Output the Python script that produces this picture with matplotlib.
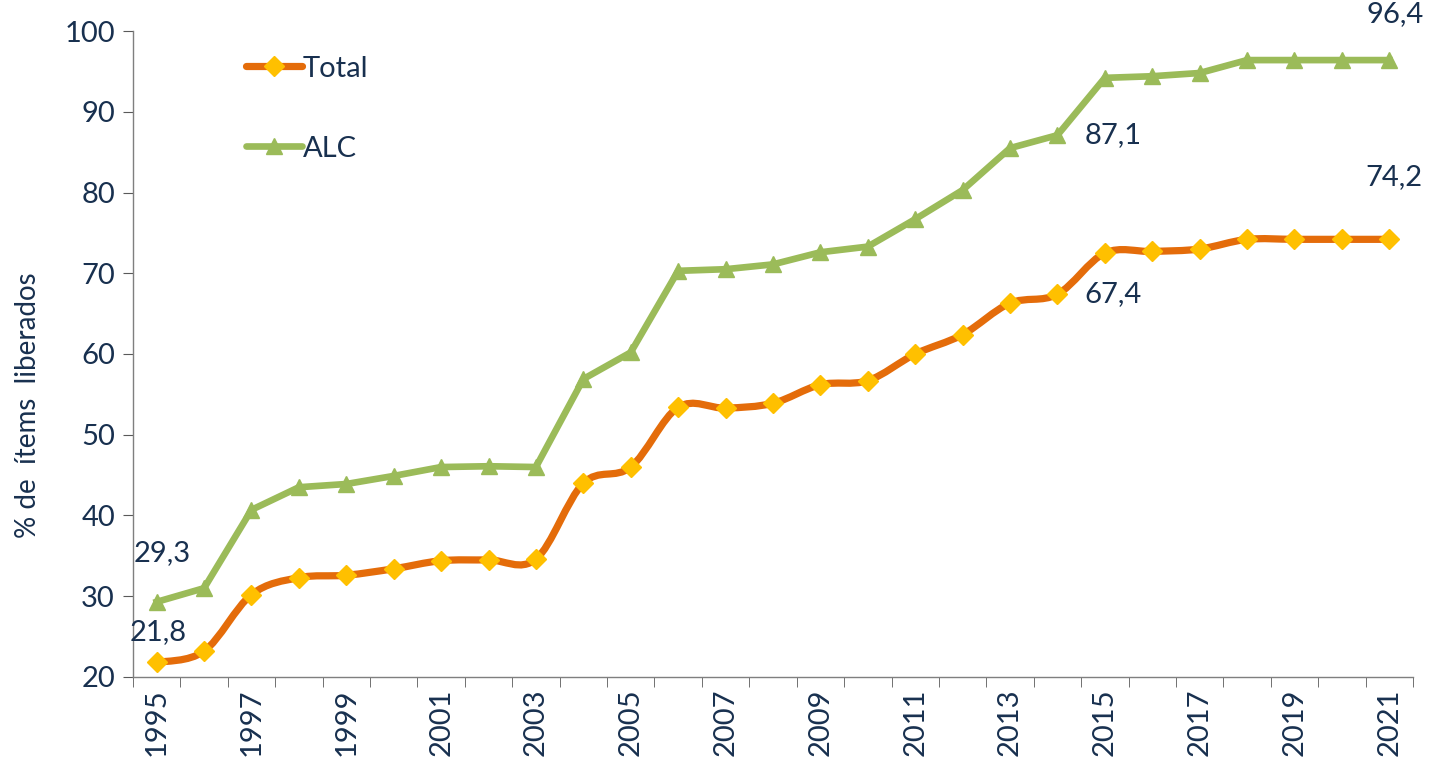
import numpy as np
import matplotlib.pyplot as plt
from matplotlib.path import Path
from matplotlib.patches import PathPatch
from matplotlib.lines import Line2D
from matplotlib.ticker import FixedLocator

plt.rcParams['font.family'] = ['Lato', 'DejaVu Sans']

years = list(range(1995, 2022))
total = [21.8, 23.2, 30.2, 32.3, 32.6, 33.4, 34.4, 34.5, 34.6, 44.0, 46.0, 53.4, 53.3,
         53.9, 56.2, 56.7, 60.0, 62.4, 66.3, 67.4, 72.5, 72.7, 73.0, 74.2, 74.2, 74.2, 74.2]
alc = [29.3, 31.0, 40.7, 43.5, 43.9, 44.9, 46.0, 46.1, 46.0, 56.9, 60.2, 70.3, 70.5,
       71.1, 72.6, 73.3, 76.7, 80.3, 85.5, 87.1, 94.2, 94.4, 94.8, 96.4, 96.4, 96.4, 96.4]
labels_total = {0: "21,8", 19: "67,4", 26: "74,2"}
labels_alc = {0: "29,3", 19: "87,1", 26: "96,4"}

txt = '#18304F'
c_total = '#E46C0A'
c_alc = '#9BBB59'
c_mark = '#FFC000'

def smooth_path(x, y, t=1/6):
    # excel-like smoothed line: cubic bezier through every point
    pts = np.column_stack([x, y]).astype(float)
    verts = [pts[0]]
    codes = [Path.MOVETO]
    n = len(pts)
    for i in range(n - 1):
        p0 = pts[max(i - 1, 0)]
        p1 = pts[i]
        p2 = pts[i + 1]
        p3 = pts[min(i + 2, n - 1)]
        verts += [p1 + (p2 - p0) * t, p2 - (p3 - p1) * t, p2]
        codes += [Path.CURVE4] * 3
    return Path(verts, codes)

fig = plt.figure(figsize=(14.47, 7.64), dpi=100)
ax = fig.add_axes([0.0919, 0.1139, 0.8846, 0.8455])

x = np.arange(len(years))

ax.plot(x, alc, color=c_alc, lw=4.8, marker='^', ms=11, mfc=c_alc, mec=c_alc,
        solid_joinstyle='round', zorder=3)
ax.add_patch(PathPatch(smooth_path(x, total), fc='none', ec=c_total, lw=5.2,
                       capstyle='round', zorder=4))
ax.plot(x, total, ls='none', marker='D', ms=10, mfc=c_mark, mec=c_mark, zorder=5)

fs = 21
# label offsets in points, per point index
off_alc = {0: (4, 35), 19: (40, 0), 26: (4, 33)}
off_total = {0: (1, 22), 19: (40, 0), 26: (3, 45)}
for i, s in labels_alc.items():
    ax.annotate(s, (x[i], alc[i]), xytext=off_alc[i], textcoords='offset points',
                ha='center', va='center', fontsize=fs, color=txt)
for i, s in labels_total.items():
    ax.annotate(s, (x[i], total[i]), xytext=off_total[i], textcoords='offset points',
                ha='center', va='center', fontsize=fs, color=txt)

ax.set_xlim(-0.5, len(years) - 0.5)
ax.set_ylim(20, 100)
ax.set_yticks(np.arange(20, 101, 10))
ax.set_xticks(x[::2])
ax.set_xticklabels([str(y) for y in years[::2]], rotation=90)
ax.xaxis.set_minor_locator(FixedLocator(np.arange(-0.5, len(years), 1)))
ax.tick_params(axis='x', which='major', length=0, pad=8, labelsize=fs, labelcolor=txt)
ax.tick_params(axis='x', which='minor', length=7, color='#595959', direction='out')
ax.tick_params(axis='y', length=7, color='#595959', labelsize=fs, labelcolor=txt, pad=6)

for side in ['top', 'right']:
    ax.spines[side].set_visible(False)
for side in ['left', 'bottom']:
    ax.spines[side].set_color('#7F7F7F')
    ax.spines[side].set_linewidth(1)

ax.set_ylabel('% de  ítems  liberados', fontsize=20, color=txt, va='center')
ax.yaxis.set_label_coords(-0.082, 0.421)

handles = [Line2D([], [], color=c_total, lw=5.2, marker='D', ms=10, mfc=c_mark, mec=c_mark,
                  solid_capstyle='round'),
           Line2D([], [], color=c_alc, lw=4.8, marker='^', ms=11, mfc=c_alc, mec=c_alc,
                  solid_capstyle='round')]
leg = ax.legend(handles, ['Total', 'ALC'], loc='upper left', bbox_to_anchor=(0.088, 0.962),
                frameon=False, fontsize=fs, handlelength=1.95, handletextpad=0.02,
                labelspacing=1.85, borderpad=0, borderaxespad=0)
for t in leg.get_texts():
    t.set_color(txt)

fig.savefig('out.png', dpi=100)
